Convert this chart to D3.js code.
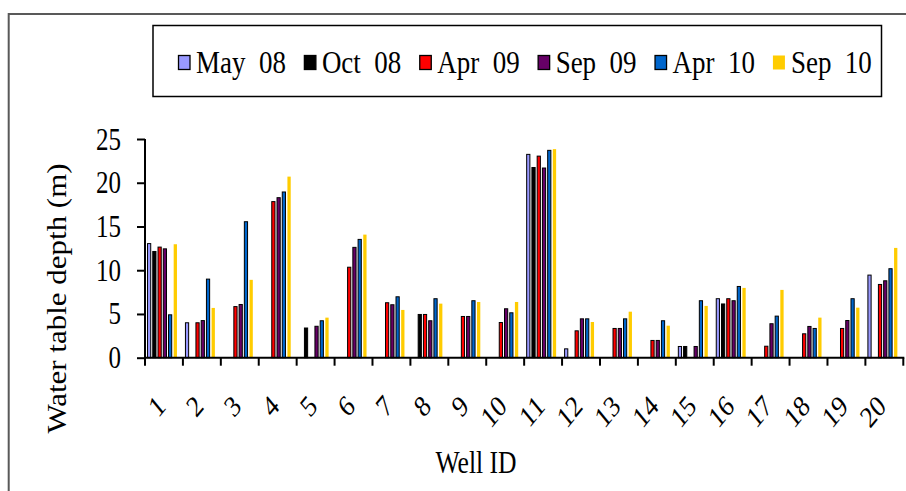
<!DOCTYPE html>
<html>
<head>
<meta charset="utf-8">
<script src="https://cdn.jsdelivr.net/npm/d3@7/dist/d3.min.js"></script>
<style>
  html, body { margin: 0; padding: 0; background: #fff; }
  svg { display: block; }
  svg text { font-family: "Liberation Serif", Tinos, "Times New Roman", Times, serif !important; }
</style>
</head>
<body>
<svg id="chart" width="906" height="491"></svg>
<script>
// ---- data ----
const wells = ["1","2","3","4","5","6","7","8","9","10","11","12","13","14","15","16","17","18","19","20"];
const seriesNames = ["May  08", "Oct  08", "Apr  09", "Sep  09", "Apr  10", "Sep  10"];
const may08 = [13.1, 4.05, null, null, null, null, null, null, null, null, 23.3, 1.07, null, null, 1.34, 6.8, null, null, null, 9.5];
const oct08 = [12.2, null, null, null, 3.45, null, null, 5.0, null, null, 21.8, null, null, null, 1.34, 6.2, null, null, null, null];
const apr09 = [12.7, 4.05, 5.9, 17.9, null, 10.4, 6.34, 5.0, 4.77, 4.08, 23.1, 3.13, 3.4, 2.03, null, 6.8, 1.37, 2.79, 3.4, 8.43];
const sep09 = [12.5, 4.3, 6.14, 18.35, 3.65, 12.67, 6.11, 4.28, 4.77, 5.65, 21.74, 4.5, 3.4, 2.03, 1.34, 6.57, 3.94, 3.63, 4.31, 8.85];
const apr10 = [4.96, 9.04, 15.6, 19.0, 4.28, 13.58, 7.02, 6.8, 6.57, 5.19, 23.76, 4.5, 4.5, 4.28, 6.57, 8.2, 4.81, 3.4, 6.8, 10.23];
const sep10 = [12.97, 5.69, 8.9, 20.7, 4.58, 14.07, 5.46, 6.18, 6.37, 6.37, 23.84, 4.08, 5.26, 3.66, 5.92, 7.98, 7.75, 4.58, 5.72, 12.55];
const yTicks = [0, 5, 10, 15, 20, 25];
const yTitle = "Water table depth (m)";
const xTitle = "Well ID";

// ---- styles ----
const FONT = "Liberation Serif, Tinos, Times New Roman, serif";
const colors = ["#9999FF", "#000000", "#FF0000", "#660066", "#0066CC", "#FFCC00"];
const outlined = [true, true, true, true, true, false];
const seriesValues = [may08, oct08, apr09, sep09, apr10, sep10];

const svg = d3.select("#chart");

// outer frame
svg.append("rect")
  .attr("x", 8.7).attr("y", 14)
  .attr("width", 920).attr("height", 520)
  .attr("fill", "none").attr("stroke", "#595959").attr("stroke-width", 2);

// scales
const x0 = d3.scaleBand().domain(wells).range([145, 903.3]).padding(0);
const x1 = d3.scaleBand().domain(seriesNames).range([1.5, 33]).padding(0);
const y = d3.scaleLinear().domain([0, 25]).range([357.7, 139]);
const barW = 4.2;

// bars
const data = [];
seriesNames.forEach((s, si) => {
  wells.forEach((w, wi) => {
    const v = seriesValues[si][wi];
    if (v != null) data.push({ s, si, w, v });
  });
});

svg.append("g").selectAll("rect")
  .data(data)
  .join("rect")
  .attr("x", d => x0(d.w) + x1(d.s) + (x1.bandwidth() - barW) / 2 + (outlined[d.si] ? 0.5 : 0.4))
  .attr("y", d => y(d.v) + (outlined[d.si] ? 0.5 : 0))
  .attr("width", d => outlined[d.si] ? barW - 1 : 3.3)
  .attr("height", d => Math.max(0, y(0) - y(d.v) - (outlined[d.si] ? 0.5 : 0)))
  .attr("fill", d => colors[d.si])
  .attr("stroke", d => outlined[d.si] ? "#000" : "none")
  .attr("stroke-width", 1);

// y axis
const yAxis = svg.append("g")
  .attr("transform", "translate(145,0)")
  .call(d3.axisLeft(y).tickValues(yTicks).tickSize(8).tickSizeOuter(0).tickFormat(""));
yAxis.select(".domain").attr("stroke", "#000").attr("stroke-width", 2)
  .attr("d", `M0,${y(25)}V${y(0) + 1}`);
yAxis.selectAll(".tick line").attr("stroke", "#000").attr("stroke-width", 2);

function txt(sel) {
  return sel.style("font-family", FONT).attr("fill", "#000");
}

txt(svg.append("g").selectAll("text")
  .data(yTicks)
  .join("text"))
  .attr("transform", d => `translate(121,${y(d) + 10.5}) scale(0.82,1)`)
  .attr("text-anchor", "end")
  .attr("font-size", 30.5)
  .text(d => d);

// x axis
const xAxisG = svg.append("g").attr("transform", `translate(0,${y(0)})`);
xAxisG.append("line")
  .attr("x1", 144).attr("x2", x0.range()[1] + 1)
  .attr("y1", 0).attr("y2", 0)
  .attr("stroke", "#000").attr("stroke-width", 2);
const boundaries = wells.map(w => x0(w)).concat([x0.range()[1]]);
xAxisG.selectAll("line.tk")
  .data(boundaries)
  .join("line")
  .attr("class", "tk")
  .attr("x1", d => d).attr("x2", d => d)
  .attr("y1", 0).attr("y2", 8)
  .attr("stroke", "#000").attr("stroke-width", 2);

txt(svg.append("g").selectAll("text")
  .data(wells)
  .join("text"))
  .attr("transform", d => `translate(${x0(d) + x0.bandwidth() / 2 + 3},408) scale(0.82,1) rotate(-45)`)
  .attr("text-anchor", "end")
  .attr("font-size", 30)
  .text(d => d);

// axis titles
txt(svg.append("text"))
  .attr("transform", "translate(476,473) scale(0.8,1)")
  .attr("text-anchor", "middle")
  .attr("font-size", 32)
  .text(xTitle);

txt(svg.append("text"))
  .attr("transform", "translate(66,298.5) scale(0.85,1) rotate(-90)")
  .attr("text-anchor", "middle")
  .attr("font-size", 31)
  .text(yTitle);

// legend
svg.append("rect")
  .attr("x", 153).attr("y", 25.5)
  .attr("width", 728.5).attr("height", 71)
  .attr("fill", "#fff").attr("stroke", "#000").attr("stroke-width", 1.5);

let lx = 178;
seriesNames.forEach((s, i) => {
  const g = svg.append("g");
  g.append("rect")
    .attr("x", lx + (outlined[i] ? 0.5 : 0)).attr("y", 55.5)
    .attr("width", outlined[i] ? 11.5 : 12).attr("height", 14)
    .attr("fill", colors[i])
    .attr("stroke", outlined[i] ? "#000" : "none")
    .attr("stroke-width", 1.3);
  const t = txt(g.append("text"))
    .attr("transform", `translate(${lx + 18},73) scale(0.87,1)`)
    .attr("font-size", 31)
    .attr("xml:space", "preserve")
    .style("white-space", "pre")
    .text(s);
  const w = t.node().getComputedTextLength() * 0.87;
  lx = lx + 18 + w + 18;
});
</script>
</body>
</html>
